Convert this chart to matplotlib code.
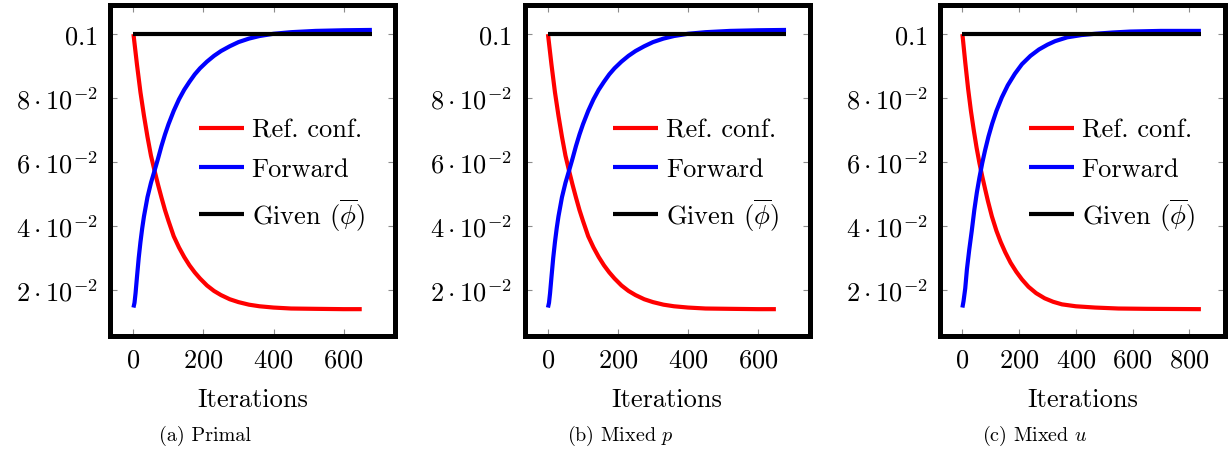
import matplotlib
matplotlib.use("Agg")
import matplotlib.pyplot as plt

plt.rcParams['font.family'] = ['cmr10', 'DejaVu Serif']
plt.rcParams['mathtext.fontset'] = 'cm'
plt.rcParams['axes.unicode_minus'] = False
plt.rcParams['axes.formatter.use_mathtext'] = True

# ---------------- data ----------------
series_labels = ["Ref. conf.", "Forward", r"Given ($\overline{\phi}$)"]
series_colors = ["#ff0000", "#0000ff", "#000000"]

# Panel (a) Primal
a_ref_it = [0, 10, 20, 30, 40, 50, 60, 70, 80, 90, 100, 115, 130, 145, 160, 175, 190, 210, 230, 250,
            275, 300, 330, 360, 400, 450, 520, 600, 652]
a_ref_val = [0.1000, 0.0905, 0.0818, 0.0745, 0.0679, 0.0620, 0.0574, 0.0530, 0.0489, 0.0450, 0.0416,
             0.0368, 0.0333, 0.0303, 0.0277, 0.0255, 0.0236, 0.0214, 0.0197, 0.0184, 0.0171, 0.0162,
             0.0154, 0.0149, 0.0145, 0.0142, 0.0141, 0.0140, 0.0140]
a_fwd_it = [0, 3, 6, 10, 15, 20, 25, 30, 40, 50, 60, 70, 80, 90, 100, 115, 130, 145, 160, 175, 190,
            210, 230, 250, 275, 300, 330, 360, 400, 450, 520, 600, 681]
a_fwd_val = [0.0145, 0.0160, 0.0190, 0.0240, 0.0300, 0.0350, 0.0393, 0.0430, 0.0490, 0.0535, 0.0572,
             0.0610, 0.0650, 0.0686, 0.0718, 0.0760, 0.0796, 0.0826, 0.0851, 0.0874, 0.0893, 0.0914,
             0.0932, 0.0947, 0.0962, 0.0975, 0.0986, 0.0994, 0.1001, 0.1006, 0.1010, 0.1012, 0.1013]
a_giv_it = [0, 681]
a_giv_val = [0.1, 0.1]

# Panel (b) Mixed p
b_ref_it = [0, 10, 20, 30, 40, 50, 60, 70, 80, 90, 100, 115, 130, 145, 160, 175, 190, 210, 230, 250,
            275, 300, 330, 360, 400, 450, 520, 600, 651]
b_ref_val = [0.1000, 0.0905, 0.0818, 0.0745, 0.0679, 0.0620, 0.0574, 0.0530, 0.0489, 0.0450, 0.0416,
             0.0368, 0.0333, 0.0303, 0.0277, 0.0255, 0.0236, 0.0214, 0.0197, 0.0184, 0.0171, 0.0162,
             0.0154, 0.0149, 0.0145, 0.0142, 0.0141, 0.0140, 0.0140]
b_fwd_it = [0, 3, 6, 10, 15, 20, 25, 30, 40, 50, 60, 70, 80, 90, 100, 115, 130, 145, 160, 175, 190,
            210, 230, 250, 275, 300, 330, 360, 400, 450, 520, 600, 680]
b_fwd_val = [0.0145, 0.0160, 0.0190, 0.0240, 0.0300, 0.0350, 0.0393, 0.0430, 0.0490, 0.0535, 0.0572,
             0.0610, 0.0650, 0.0686, 0.0718, 0.0760, 0.0796, 0.0826, 0.0851, 0.0874, 0.0893, 0.0914,
             0.0932, 0.0947, 0.0962, 0.0975, 0.0986, 0.0994, 0.1001, 0.1006, 0.1010, 0.1012, 0.1013]
b_giv_it = [0, 680]
b_giv_val = [0.1, 0.1]

# Panel (c) Mixed u
c_ref_it = [0, 10, 20, 30, 40, 50, 60, 70, 80, 90, 104, 120, 135, 151, 170, 190, 210, 233, 260, 290,
            320, 351, 400, 468, 550, 650, 841]
c_ref_val = [0.1000, 0.0912, 0.0830, 0.0760, 0.0700, 0.0645, 0.0597, 0.0555, 0.0516, 0.0478, 0.0430,
             0.0385, 0.0350, 0.0318, 0.0285, 0.0257, 0.0233, 0.0210, 0.0190, 0.0174, 0.0163, 0.0155,
             0.0149, 0.0145, 0.0142, 0.0141, 0.0140]
c_fwd_it = [0, 4, 10, 16, 24, 33, 42, 51, 60, 70, 80, 92, 105, 120, 139, 160, 185, 210, 240, 270, 300,
            327, 370, 420, 468, 530, 592, 700, 841]
c_fwd_val = [0.0145, 0.0165, 0.0205, 0.0265, 0.0325, 0.0385, 0.0450, 0.0505, 0.0551, 0.0597, 0.0637,
             0.0680, 0.0720, 0.0760, 0.0802, 0.0840, 0.0876, 0.0906, 0.0932, 0.0952, 0.0967, 0.0978,
             0.0990, 0.0997, 0.1001, 0.1005, 0.1008, 0.1010, 0.1010]
c_giv_it = [0, 841]
c_giv_val = [0.1, 0.1]

y_ticks = [0.02, 0.04, 0.06, 0.08, 0.1]
y_tick_labels = [r"$2\cdot10^{-2}$", r"$4\cdot10^{-2}$", r"$6\cdot10^{-2}$", r"$8\cdot10^{-2}$", r"$0.1$"]
x_ticks_ab = [0, 200, 400, 600]
x_ticks_c = [0, 200, 400, 600, 800]
x_label = "Iterations"
captions = ["(a) Primal", r"(b) Mixed $p$", r"(c) Mixed $u$"]

panels = [
    ([a_ref_it, a_fwd_it, a_giv_it], [a_ref_val, a_fwd_val, a_giv_val], x_ticks_ab, (-67, 747)),
    ([b_ref_it, b_fwd_it, b_giv_it], [b_ref_val, b_fwd_val, b_giv_val], x_ticks_ab, (-67, 747)),
    ([c_ref_it, c_fwd_it, c_giv_it], [c_ref_val, c_fwd_val, c_giv_val], x_ticks_c, (-79, 926)),
]

# ---------------- layout ----------------
W, H = 1230, 452
fig = plt.figure(figsize=(W / 100, H / 100), dpi=100)
ax_lefts = [110, 524.5, 940]
ax_w = 285
ax_top, ax_bot = 6, 336.7
cap_x = [205, 620, 1035]
cap_y = 436

for i, (its, vals, xt, xl) in enumerate(panels):
    ax = fig.add_axes([ax_lefts[i] / W, (H - ax_bot) / H, ax_w / W, (ax_bot - ax_top) / H])
    for it, v, lab, col in zip(its, vals, series_labels, series_colors):
        ax.plot(it, v, color=col, lw=3.0, label=lab, solid_capstyle='butt', solid_joinstyle='round')
    ax.set_xlim(*xl)
    ax.set_ylim(0.0057, 0.1091)
    ax.set_xticks(xt)
    ax.set_xticklabels([rf"${t}$" for t in xt])
    ax.set_yticks(y_ticks)
    ax.set_yticklabels(y_tick_labels)
    ax.tick_params(direction='in', top=True, right=True, length=5, width=0.8,
                   color='0.55', labelsize=19)
    ax.tick_params(axis='x', pad=9)
    ax.tick_params(axis='y', pad=9)
    for sp in ax.spines.values():
        sp.set_linewidth(3.6)
        sp.set_color('black')
    ax.set_xlabel(x_label, fontsize=19, labelpad=11)
    leg = ax.legend(loc='center left', bbox_to_anchor=(0.312, 0.485), frameon=False,
                    fontsize=19, handlelength=1.7, handletextpad=0.3, labelspacing=0.58,
                    borderpad=0, borderaxespad=0)
    fig.text(cap_x[i] / W, (H - cap_y) / H, captions[i], ha='center', va='center', fontsize=14.5)

fig.savefig("out.png", dpi=100)
